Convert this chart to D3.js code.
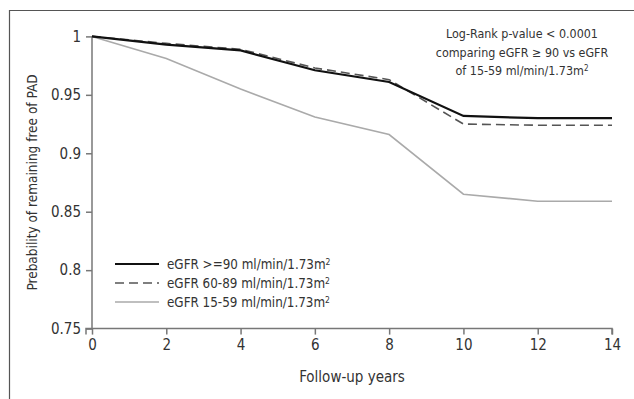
<!DOCTYPE html>
<html>
  <head>
    <meta charset="utf-8">
    <title>PAD free probability</title>
    <script src="https://d3js.org/d3.v7.min.js"></script>
    <style>
      body { margin: 0; background: #fff; }
      text { font-family: "DejaVu Sans Condensed", sans-serif; fill: #333; }
    </style>
  </head>
  <body>
    <div id="chart"></div>
    <script>
      const years = [0, 2, 4, 6, 8, 10, 12, 14];
      const egfr90 = [1, 0.993, 0.988, 0.971, 0.961, 0.932, 0.930, 0.930];
      const egfr60 = [1, 0.994, 0.989, 0.973, 0.963, 0.925, 0.924, 0.924];
      const egfr15 = [1, 0.981, 0.955, 0.931, 0.916, 0.865, 0.859, 0.859];
      const seriesNames = ["eGFR >=90 ml/min/1.73m", "eGFR 60-89 ml/min/1.73m", "eGFR 15-59 ml/min/1.73m"];
      const yTicks = [0.75, 0.8, 0.85, 0.9, 0.95, 1];
      const xTicks = [0, 2, 4, 6, 8, 10, 12, 14];

      const width = 634, height = 399;
      const svg = d3.select("#chart")
        .append("svg")
        .attr("width", width)
        .attr("height", height);

      // outer frame (left and top only)
      svg.append("path")
        .attr("d", `M9.5,${height}V10.5H${width}`)
        .attr("fill", "none")
        .attr("stroke", "#555")
        .attr("stroke-width", 1.2);

      const x = d3.scaleLinear().domain([0, 14]).range([92, 612]);
      const y = d3.scaleLinear().domain([0.75, 1]).range([328.6, 36.4]);

      const xAxis = svg.append("g")
        .attr("transform", `translate(0,${y(0.75)})`)
        .call(d3.axisBottom(x).tickValues(xTicks).tickSize(6).tickPadding(5).tickFormat(d3.format("d")));
      const yAxis = svg.append("g")
        .attr("transform", `translate(${x(0)},0)`)
        .call(d3.axisLeft(y).tickValues(yTicks).tickSize(6).tickPadding(5).tickFormat(d => String(d)));

      [xAxis, yAxis].forEach(g => {
        g.select(".domain").attr("stroke", "#777").attr("stroke-width", 1.5);
        g.selectAll(".tick line").attr("stroke", "#777").attr("stroke-width", 1.5);
        g.selectAll(".tick text").style("font-size", "15px").attr("fill", "#333");
      });
      xAxis.select(".domain").attr("d", `M${x(0) - 6},6V0H${x(14)}V6`);
      yAxis.select(".domain").attr("d", `M0,${y(0.75)}V${y(1)}`);

      const line = d3.line()
        .x((d, i) => x(years[i]))
        .y(d => y(d));

      const styles = [
        { stroke: "#111", width: 2.2, dash: null },
        { stroke: "#555", width: 1.6, dash: "9,5" },
        { stroke: "#aaa", width: 1.6, dash: null }
      ];
      const data = [egfr90, egfr60, egfr15];

      // draw gray first, then dashed, then black
      [2, 1, 0].forEach(k => {
        svg.append("path")
          .datum(data[k])
          .attr("d", line)
          .attr("fill", "none")
          .attr("stroke", styles[k].stroke)
          .attr("stroke-width", styles[k].width)
          .attr("stroke-dasharray", styles[k].dash);
      });

      // legend
      const legend = svg.append("g").attr("transform", "translate(115,264)");
      seriesNames.forEach((name, i) => {
        const row = legend.append("g").attr("transform", `translate(0,${i * 19})`);
        row.append("line")
          .attr("x1", 0).attr("x2", 44)
          .attr("stroke", styles[i].stroke)
          .attr("stroke-width", styles[i].width)
          .attr("stroke-dasharray", styles[i].dash);
        const t = row.append("text")
          .attr("x", 52).attr("dy", "0.35em")
          .style("font-size", "13.3px")
          .text(name);
        t.append("tspan").attr("dy", "-0.45em").style("font-size", "8.5px").text("2");
      });

      // annotation
      const note = svg.append("text")
        .attr("text-anchor", "middle")
        .style("font-size", "12.4px");
      note.append("tspan").attr("x", 522).attr("y", 38).text("Log-Rank p-value < 0.0001");
      note.append("tspan").attr("x", 522).attr("y", 57).text("comparing eGFR \u2265 90 vs eGFR");
      note.append("tspan").attr("x", 522).attr("y", 75).text("of 15-59 ml/min/1.73m");
      note.append("tspan").attr("dy", "-0.45em").style("font-size", "8px").text("2");

      // axis titles
      svg.append("text")
        .attr("x", x(7)).attr("y", 382)
        .attr("text-anchor", "middle")
        .style("font-size", "15px")
        .text("Follow-up years");
      svg.append("text")
        .attr("transform", `translate(37,${(y(0.75) + y(1)) / 2}) rotate(-90)`)
        .attr("text-anchor", "middle")
        .style("font-size", "13.5px")
        .text("Prebability of remaining free of PAD");
    </script>
  </body>
</html>
